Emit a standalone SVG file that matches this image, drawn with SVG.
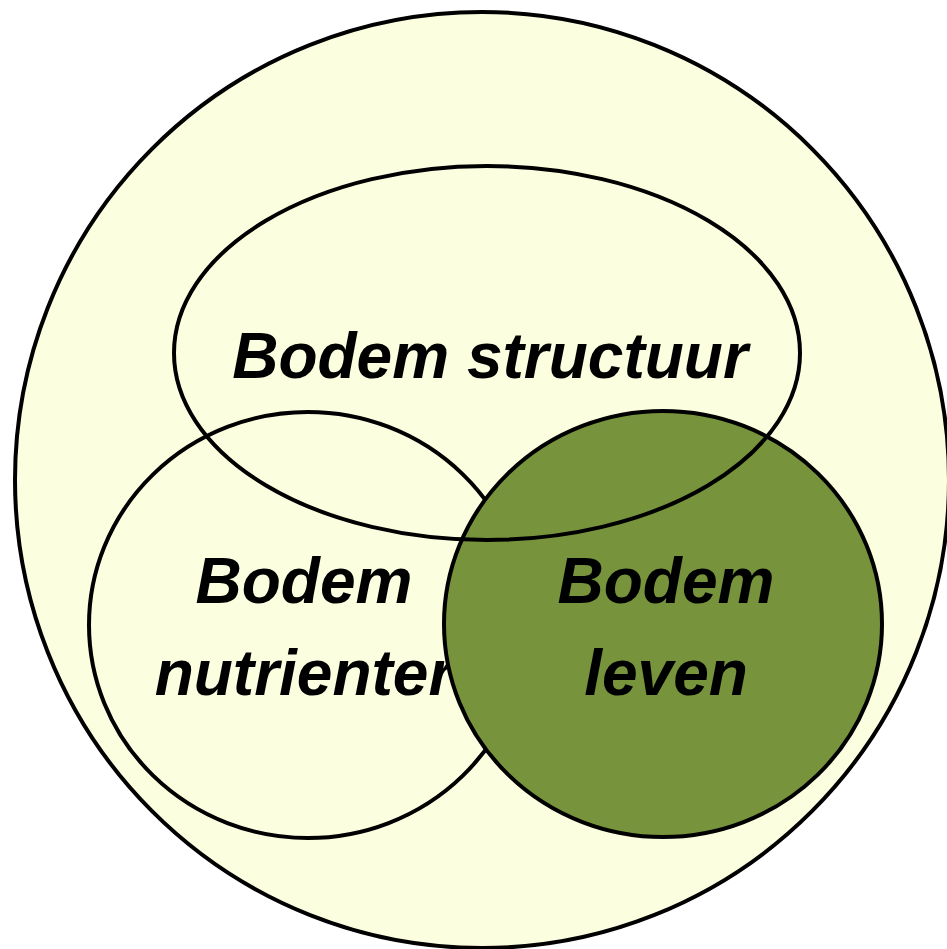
<svg xmlns="http://www.w3.org/2000/svg" width="947" height="949" viewBox="0 0 947 949">
  <style>
    .shape { stroke: #000; stroke-width: 4; }
    .cream { fill: #FCFEE0; }
    .green { fill: #77933C; }
    .none { fill: none; }
    .label { font-family: "Liberation Sans", Arial, sans-serif; font-weight: bold; font-style: italic; font-size: 64px; fill: #000; text-anchor: middle; }
  </style>
  <rect width="947" height="949" fill="#FFFFFF"/>
  <g id="soil">
    <ellipse class="shape cream" cx="482" cy="480" rx="467" ry="468"/>
  </g>
  <g id="nutrients">
    <ellipse class="shape cream" cx="308" cy="625" rx="219" ry="213"/>
    <text class="label" x="304" y="603">Bodem</text>
    <text class="label" x="304" y="695">nutrienter</text>
  </g>
  <g id="life">
    <ellipse class="shape green" cx="663" cy="624" rx="219" ry="213"/>
    <text class="label" x="666" y="603">Bodem</text>
    <text class="label" x="666" y="695">leven</text>
  </g>
  <g id="structure">
    <ellipse class="shape none" cx="487" cy="353" rx="313" ry="187"/>
    <text class="label" x="490" y="378">Bodem structuur</text>
  </g>
  <g id="connectors"/>
</svg>
